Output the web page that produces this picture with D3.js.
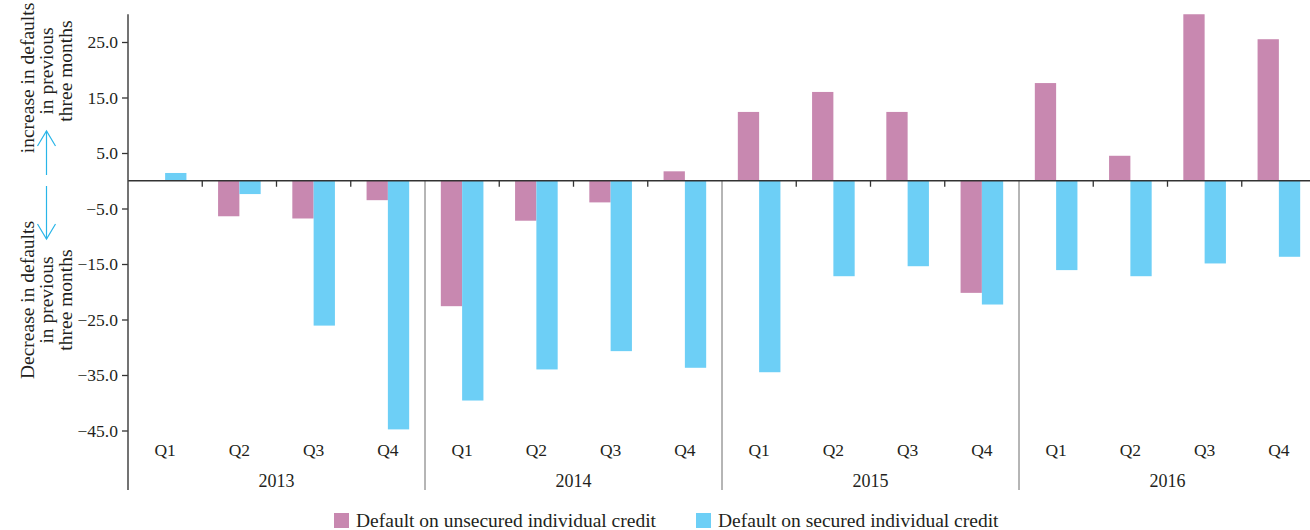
<!DOCTYPE html>
<html><head><meta charset="utf-8">
<script src="https://cdn.jsdelivr.net/npm/d3@7"></script>
<style>
html,body{margin:0;padding:0;background:#fff;}
svg{display:block;}
text{font-family:"Liberation Serif","DejaVu Serif",serif;fill:#231f20;}
</style></head>
<body>
<svg id="chart" width="1310" height="530"></svg>
<script>
const years = ["2013","2014","2015","2016"];
const quarters = ["Q1","Q2","Q3","Q4"];
const unsecured = [null, -6.4, -6.8, -3.5, -22.6, -7.2, -3.9, 1.7, 12.4, 16.0, 12.4, -20.2, 17.6, 4.5, 30.0, 25.5];
const secured = [1.4, -2.4, -26.1, -44.8, -39.6, -34.0, -30.7, -33.7, -34.5, -17.2, -15.4, -22.3, -16.1, -17.2, -14.9, -13.7];
const yTicks = [25, 15, 5, -5, -15, -25, -35, -45];
const seriesNames = ["Default on unsecured individual credit", "Default on secured individual credit"];
const colors = ["#c888b0", "#6dcff6"];

const svg = d3.select("#chart");
const M = {left: 128, right: 1316, top: 14.25, bottom: 430.5, axisBottom: 490};

const keys = [];
years.forEach(yr => quarters.forEach(q => keys.push(yr + "-" + q)));
const x0 = d3.scaleBand().domain(keys).range([M.left, M.right]).padding(0);
const x1 = d3.scaleBand().domain(["u","s"]).range([0, x0.bandwidth()]).paddingInner(0).paddingOuter(0.743);
const xYear = d3.scaleBand().domain(years).range([M.left, M.right]).padding(0);
const y = d3.scaleLinear().domain([-45, 30]).range([M.bottom, M.top]);
const y0 = y(0);

const rows = keys.map((k, i) => ({k, u: unsecured[i], s: secured[i]}));

// bars
const g = svg.append("g");
[["u", 0], ["s", 1]].forEach(([key, ci]) => {
  g.selectAll(".bar-" + key).data(rows.filter(d => d[key] !== null)).join("rect")
    .attr("class", "bar-" + key)
    .attr("x", d => x0(d.k) + x1(key))
    .attr("width", x1.bandwidth())
    .attr("y", d => Math.min(y(d[key]), y0))
    .attr("height", d => Math.abs(y(d[key]) - y0))
    .attr("fill", colors[ci]);
});

// year separators
svg.selectAll(".sep").data(years.slice(1)).join("line")
  .attr("x1", d => xYear(d)).attr("x2", d => xYear(d))
  .attr("y1", y0).attr("y2", M.axisBottom)
  .attr("stroke", "#6d6d6d").attr("stroke-width", 1);

// quarter ticks
const qt = keys.filter((k, i) => i % 4 !== 0);
svg.selectAll(".qt").data(qt).join("line")
  .attr("x1", d => x0(d)).attr("x2", d => x0(d))
  .attr("y1", y0).attr("y2", y0 + 6)
  .attr("stroke", "#333").attr("stroke-width", 1.3);

// zero line
svg.append("line").attr("x1", M.left).attr("x2", 1310).attr("y1", y0).attr("y2", y0)
  .attr("stroke", "#333").attr("stroke-width", 1.5);

// y axis
const yAxis = d3.axisLeft(y).tickValues(yTicks).tickFormat(d3.format(".1f")).tickSize(6).tickPadding(4);
const ya = svg.append("g").attr("transform", `translate(${M.left},0)`).call(yAxis);
ya.select(".domain").remove();
ya.selectAll("line").attr("stroke", "#333").attr("stroke-width", 1.3);
ya.selectAll("text").style("font-size", "17.5px").style("font-family", '"Liberation Serif",serif').attr("fill", "#231f20");
svg.append("line").attr("x1", M.left).attr("x2", M.left).attr("y1", M.top).attr("y2", M.axisBottom)
  .attr("stroke", "#444").attr("stroke-width", 1.5);

// quarter labels
svg.selectAll(".ql").data(rows).join("text")
  .attr("x", d => x0(d.k) + x0.bandwidth() / 2)
  .attr("y", 456)
  .attr("text-anchor", "middle").style("font-size", "17.5px")
  .text(d => d.k.split("-")[1]);

// year labels
svg.selectAll(".yl").data(years).join("text")
  .attr("x", d => xYear(d) + xYear.bandwidth() / 2)
  .attr("y", 487)
  .attr("text-anchor", "middle").style("font-size", "18px")
  .text(d => d);

// y axis titles
const upper = ["increase in defaults", "in previous", "three months"];
const lower = ["Decrease in defaults", "in previous", "three months"];
const lx = [27, 46.5, 65];
function titleBlock(lines, cys) {
  lines.forEach((t, i) => {
    svg.append("text")
      .attr("transform", `translate(${lx[i]},${cys[i]}) rotate(-90)`)
      .attr("text-anchor", "middle").attr("dominant-baseline", "central")
      .style("font-size", "19.5px").text(t);
  });
}
titleBlock(upper, [78, 71, 71]);
titleBlock(lower, [300, 300, 300]);

// arrows
const ac = "#29b5e8";
const arrows = svg.append("g").attr("stroke", ac).attr("stroke-width", 1.2).attr("fill", "none");
arrows.append("line").attr("x1", 46.5).attr("x2", 46.5).attr("y1", 175).attr("y2", 131);
arrows.append("polyline").attr("points", "37.5,146 46.5,131 55.5,146");
arrows.append("line").attr("x1", 46.5).attr("x2", 46.5).attr("y1", 186).attr("y2", 239);
arrows.append("polyline").attr("points", "37.5,224 46.5,239 55.5,224");

// legend
const legend = svg.append("g");
const lpos = [334, 696];
seriesNames.forEach((n, i) => {
  legend.append("rect").attr("x", lpos[i]).attr("y", 513).attr("width", 15).attr("height", 15).attr("fill", colors[i]);
  legend.append("text").attr("x", lpos[i] + 22).attr("y", 527).style("font-size", "19.5px").text(n);
});
</script>
</body></html>
